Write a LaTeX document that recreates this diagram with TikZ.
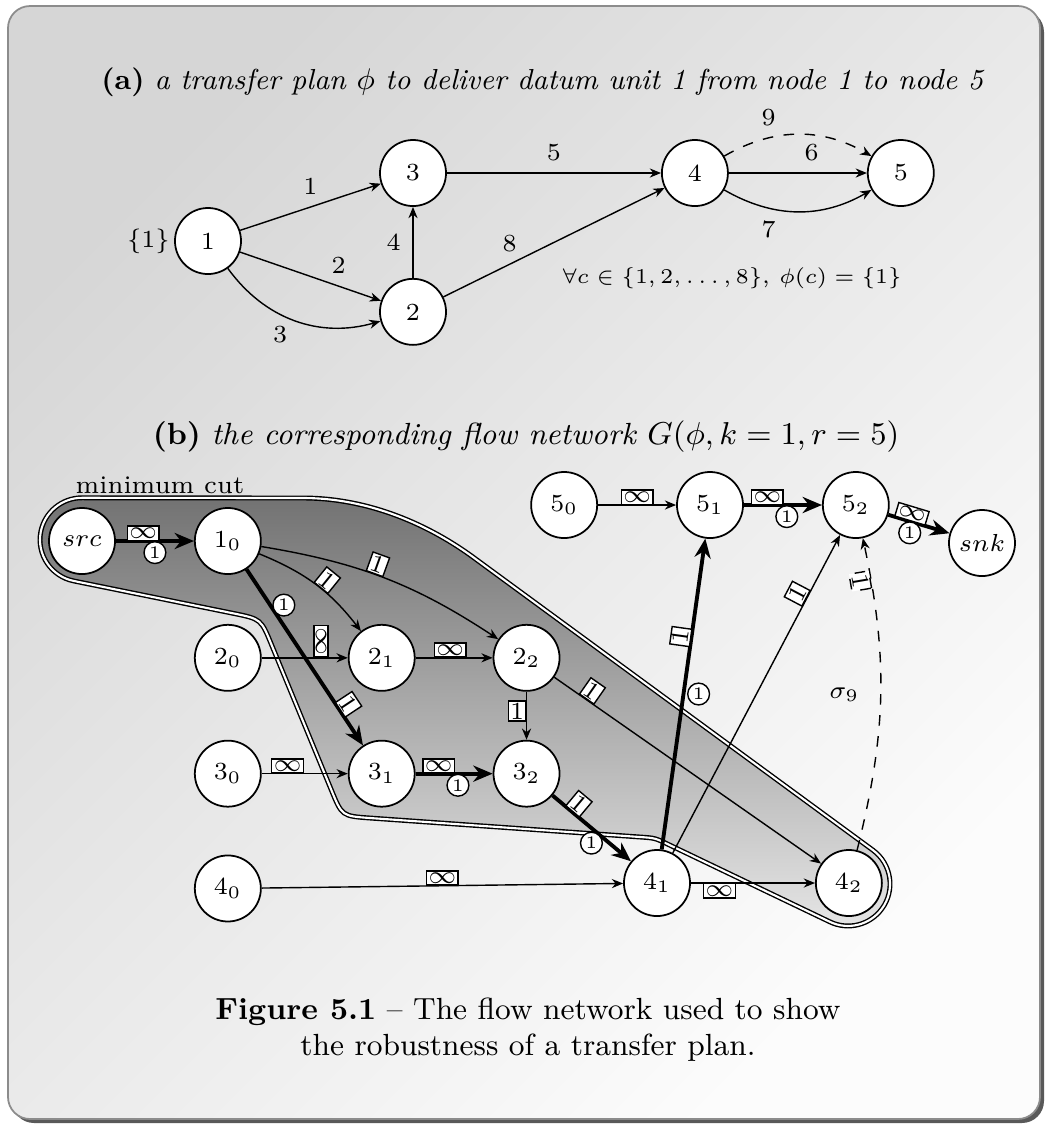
\documentclass[tikz,border=0pt]{standalone}
\usepackage{amsmath, amssymb}
\usepackage{graphicx}
\usepackage{fontspec}
\usepackage{xcolor}
\usepackage{tikz}
\usetikzlibrary{positioning, arrows.meta, shapes, shapes.geometric, calc, backgrounds}

\begin{document}
\begin{tikzpicture}[x=0.01cm, y=0.01cm, >={Stealth[length=3.2pt, width=2.6pt]}]
        \tikzstyle{vertex} = [circle, draw, fill=white, line width=0.5pt, minimum size=0.66cm, inner sep=0pt, font=\fontsize{7.5}{9}\selectfont]
        \tikzstyle{station} = [vertex, font=\scriptsize]
        \tikzstyle{capbox} = [rectangle, draw, fill=white, line width=0.4pt, inner sep=0.5pt, font=\scriptsize]
        \tikzstyle{flowmark} = [circle, draw, fill=white, line width=0.4pt, inner sep=0.3pt, minimum size=6.2pt, font=\tiny]
        \tikzstyle{link} = [line width=0.4pt, ->]
        \tikzstyle{flow} = [line width=1.1pt, -{Stealth[length=5.5pt, width=4.6pt]}]
        \tikzstyle{spare} = [line width=0.4pt, dashed, ->]
        \tikzstyle{mincut} = [draw, double=white, double distance=0.6pt, line width=0.4pt, top color=black!55, bottom color=black!10]

        % frame
        \useasboundingbox (0,0) rectangle (1045,-1126);
        \fill [black!65, rounded corners=0.22cm] (12,-10) rectangle (1044,-1123);
        \path [draw=black!45, line width=0.5pt, rounded corners=0.22cm, top color=black!16, bottom color=black!1, shading angle=45] (8,-6) rectangle (1040,-1119);

        % (a) transfer plan
        \node [font=\fontsize{8.7}{10}\selectfont] (titlea) at (543,-82) {\scalebox{0.946}{\textbf{(a)} \textit{a transfer plan $\phi$ to deliver datum unit 1 from node 1 to node 5}}};
        \node [station] (a1) at (208,-241) {1};
        \node [station] (a3) at (413,-173) {3};
        \node [station, below=0.71cm of a3] (a2) {2};
        \node [station, right=2.14cm of a3] (a4) {4};
        \node [station, right=1.38cm of a4] (a5) {5};
        \node [left=0pt of a1, inner sep=1pt, font=\scriptsize] (seed) {$\{1\}$};
        \node [font=\fontsize{6.3}{8}\selectfont] (rule) at (732,-278) {$\forall c \in \{1,2,\ldots,8\}$, $\phi(c)=\{1\}$};

        \begin{scope}[font=\scriptsize]
        \draw [link] (a1) -- node [above] {1} (a3);
        \draw [link] (a1) -- node [above, pos=0.7] {2} (a2);
        \draw [link] (a1) to[bend right=35] node [below, pos=0.4] {3} (a2);
        \draw [link] (a2) -- node [left] {4} (a3);
        \draw [link] (a3) -- node [above] {5} (a4);
        \draw [link] (a2) -- node [above, pos=0.3] {8} (a4);
        \draw [link] (a4) -- node [above, pos=0.6] {6} (a5);
        \draw [link] (a4) to[bend right=30] node [below, pos=0.3] {7} (a5);
        \draw [spare] (a4) to[bend left=30] node [above, pos=0.3] {9} (a5);
        \end{scope}

        % (b) flow network
        \node [font=\fontsize{8.7}{10}\selectfont] (titleb) at (526,-437) {\textbf{(b)} \textit{the corresponding flow network} $G(\phi, k=1, r=5)$};

        % minimum cut region
        \path [mincut] (74,-581) arc[start angle=259, end angle=90, radius=42]
            -- (303,-498) .. controls (368,-498) and (429,-524) .. (477,-560)
            -- (872.9,-850.1) arc[start angle=53.7, end angle=-115.6, radius=42]
            -- (668.5,-844.5) .. controls (655,-838) .. (640,-837)
            -- (369.9,-818) .. controls (342,-816) .. (331.4,-790.1)
            -- (271.6,-644.9) .. controls (261,-619) .. (233.6,-613.4)
            -- cycle;
        \node [font=\fontsize{7.2}{9}\selectfont] (cutlabel) at (160,-485) {minimum cut};

        \node [vertex] (src) at (82,-541) {$src$};
        \node [vertex, right=0.78cm of src] (n10) {$1_0$};
        \node [vertex, below=0.49cm of n10] (n20) {$2_0$};
        \node [vertex, right=0.86cm of n20] (n21) {$2_1$};
        \node [vertex, right=0.77cm of n21] (n22) {$2_2$};
        \node [vertex, below=0.48cm of n20] (n30) {$3_0$};
        \node [vertex, below=0.48cm of n21] (n31) {$3_1$};
        \node [vertex, below=0.48cm of n22] (n32) {$3_2$};
        \node [vertex, below=0.47cm of n30] (n40) {$4_0$};
        \node [vertex] (n41) at (657,-883) {$4_1$};
        \node [vertex, right=1.24cm of n41] (n42) {$4_2$};
        \node [vertex] (n51) at (710,-505) {$5_1$};
        \node [vertex, left=0.78cm of n51] (n50) {$5_0$};
        \node [vertex, right=0.78cm of n51] (n52) {$5_2$};
        \node [vertex] (snk) at (982,-543) {$snk$};

        \draw [flow] (src) -- node [capbox, above, pos=0.35] {$\infty$} node [flowmark, below] {1} (n10);
        \draw [link] (n10) to[bend left=15] node [capbox, sloped, above, pos=0.55] {1} (n21);
        \draw [link] (n10) to[bend left=12] node [capbox, sloped, above, pos=0.45] {1} (n22);
        \draw [flow] (n10) -- node [flowmark, above right, pos=0.25] {1} node [capbox, sloped, above, pos=0.8] {1} (n31);
        \draw [link] (n20) -- node [capbox, rotate=90, anchor=west, pos=0.69] {$\infty$} (n21);
        \draw [link] (n21) -- node [capbox, above, pos=0.45] {$\infty$} (n22);
        \draw [link] (n22) -- node [capbox, left, pos=0.4] {1} (n32);
        \draw [link] (n22) -- node [capbox, sloped, above, pos=0.12] {1} (n42);
        \draw [link] (n30) -- node [capbox, above, pos=0.3] {$\infty$} (n31);
        \draw [flow] (n31) -- node [capbox, above, pos=0.3] {$\infty$} node [flowmark, below, pos=0.55] {1} (n32);
        \draw [flow] (n32) -- node [capbox, sloped, above, pos=0.25] {1} node [flowmark, below left, pos=0.6] {1} (n41);
        \draw [link] (n40) -- node [capbox, above] {$\infty$} (n41);
        \draw [link] (n41) -- node [capbox, below, pos=0.23] {$\infty$} (n42);
        \draw [flow] (n41) -- node [capbox, sloped, above, pos=0.68] {1} node [flowmark, right=1pt, pos=0.5] {1} (n51);
        \draw [link] (n41) -- node [capbox, sloped, above, pos=0.8] {1} (n52);
        \draw [spare] (n42) to[bend right=13] node [capbox, sloped, below, pos=0.88] {1} node [left=2.5pt, pos=0.5, font=\fontsize{7.5}{9}\selectfont] {$\sigma_9$} (n52);
        \draw [link] (n50) -- node [capbox, above] {$\infty$} (n51);
        \draw [flow] (n51) -- node [capbox, above, pos=0.3] {$\infty$} node [flowmark, below, pos=0.55] {1} (n52);
        \draw [flow] (n52) -- node [capbox, sloped, above, pos=0.35] {$\infty$} node [flowmark, below, pos=0.35] {1} (snk);

        % caption
        \node [align=center, font=\fontsize{8.7}{10.3}\selectfont] (caption) at (528,-1030) {\textbf{Figure 5.1} -- The flow network used to show\\ the robustness of a transfer plan.};
\end{tikzpicture}
\end{document}
